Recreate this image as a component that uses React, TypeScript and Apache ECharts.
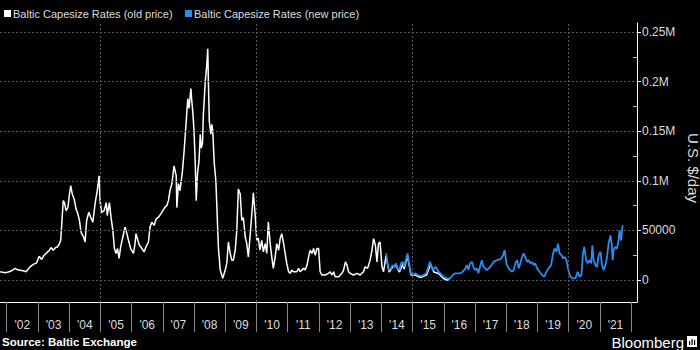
import React, { useEffect, useRef } from "react";
import * as echarts from "echarts";

// Old price (decimal years, USD/day)
const oldYears = [
  2001.79, 2001.95, 2002.05, 2002.16, 2002.27, 2002.37, 2002.53, 2002.62, 2002.75, 2002.85, 2002.96,
  2003.04, 2003.12, 2003.2, 2003.28, 2003.37, 2003.42, 2003.49, 2003.57, 2003.62, 2003.68, 2003.73, 2003.77, 2003.81, 2003.85, 2003.9, 2003.96,
  2004.01, 2004.05, 2004.1, 2004.16, 2004.22, 2004.28, 2004.33, 2004.38, 2004.46, 2004.51, 2004.56, 2004.63, 2004.69, 2004.76, 2004.83, 2004.9, 2004.96, 2004.99,
  2005.04, 2005.12, 2005.19, 2005.22, 2005.29, 2005.34, 2005.4, 2005.45, 2005.5, 2005.55, 2005.6, 2005.65, 2005.72, 2005.79, 2005.85, 2005.9, 2005.97,
  2006.06, 2006.11, 2006.14, 2006.2, 2006.25, 2006.33, 2006.4, 2006.46, 2006.54, 2006.59, 2006.65, 2006.72, 2006.79, 2006.86, 2006.94,
  2007.0, 2007.07, 2007.13, 2007.18, 2007.23, 2007.29, 2007.36, 2007.43, 2007.45, 2007.5, 2007.55, 2007.63, 2007.69, 2007.75, 2007.8, 2007.84, 2007.9, 2007.93, 2007.96,
  2008.0, 2008.04, 2008.07, 2008.11, 2008.16, 2008.2, 2008.23, 2008.27, 2008.3, 2008.36, 2008.41, 2008.44, 2008.46, 2008.49, 2008.54, 2008.57, 2008.6, 2008.65, 2008.7, 2008.74, 2008.78, 2008.84, 2008.92,
  2009.0, 2009.05, 2009.1, 2009.16, 2009.21, 2009.26, 2009.32, 2009.37, 2009.42, 2009.48, 2009.53, 2009.58, 2009.64, 2009.69, 2009.74, 2009.8, 2009.85, 2009.9, 2009.96,
  2010.01, 2010.06, 2010.11, 2010.17, 2010.22, 2010.28, 2010.33, 2010.38, 2010.44, 2010.49, 2010.54, 2010.6, 2010.65, 2010.71, 2010.76, 2010.81, 2010.87, 2010.92, 2010.97,
  2011.03, 2011.08, 2011.13, 2011.18, 2011.29, 2011.35, 2011.4, 2011.51, 2011.56, 2011.62, 2011.67, 2011.72, 2011.78, 2011.83, 2011.88, 2011.94, 2011.99,
  2012.04, 2012.1, 2012.2, 2012.31, 2012.36, 2012.42, 2012.47, 2012.52, 2012.63, 2012.74, 2012.79, 2012.85, 2012.9, 2012.95,
  2013.0, 2013.11, 2013.22, 2013.32, 2013.43, 2013.48, 2013.56, 2013.64, 2013.7, 2013.75, 2013.81, 2013.86, 2013.91, 2013.96,
  2014.02, 2014.07, 2014.15, 2014.25, 2014.36, 2014.47, 2014.58, 2014.69, 2014.73, 2014.84, 2014.95, 2015.09, 2015.25, 2015.45, 2015.58, 2015.68, 2015.83, 2015.99, 2016.1, 2016.19,
];
const oldValues = [
  8300, 7300, 8000, 9300, 11700, 10000, 9300, 8300, 13300, 15700, 17300,
  24000, 20700, 25000, 27300, 30000, 32700, 30000, 32700, 33300, 36000, 40000, 60000, 80000, 78000, 70000, 73000,
  86700, 95000, 86700, 81700, 71700, 66700, 60000, 48300, 43300, 38300, 60000, 68300, 63300, 58300, 76700, 90000, 105000, 80000,
  68000, 70000, 78000, 65000, 78000, 63300, 50000, 31700, 26700, 31700, 21700, 33300, 43300, 53300, 46700, 40000, 31700,
  26700, 36700, 46700, 40000, 35000, 31700, 28300, 33300, 38300, 53300, 58300, 55000, 61700, 63300, 66700,
  70000, 73300, 75000, 80000, 90000, 96700, 115000, 105000, 73000, 97000, 90000, 110000, 133000, 160000, 183000, 173000, 193000, 180000, 170000,
  150000, 117000, 80000, 107000, 120000, 147000, 133000, 137000, 167000, 200000, 217000, 233000, 200000, 160000, 147000, 157000, 150000, 117000, 100000, 67000, 33000, 10000, 1700,
  10000, 16700, 38300, 26700, 20000, 20000, 30000, 50000, 91700, 86700, 60000, 63000, 43300, 36700, 23300, 46000, 66000, 88000, 65000,
  40000, 42000, 30000, 40000, 28300, 36700, 26700, 58300, 36700, 23300, 11700, 23300, 36700, 30000, 41700, 46700, 36700, 26700, 16700,
  8300, 6700, 10000, 8300, 8300, 11700, 8300, 11700, 10000, 15000, 23300, 30000, 26700, 31700, 25000, 31700, 31700,
  8300, 5000, 5000, 6700, 8300, 5000, 8300, 3300, 3300, 6700, 10000, 18300, 15000, 8300,
  6700, 5000, 6700, 5000, 8300, 13300, 11700, 20000, 30000, 41700, 35000, 18300, 36700, 38300,
  13300, 8300, 24000, 8000, 13000, 14500, 8000, 16000, 11000, 24000, 5000, 5000, 2500, 5000, 16000, 8000, 6500, 1500, 0, 0,
];

// New price
const newYears = [
  2014.15, 2014.2, 2014.25, 2014.31, 2014.36, 2014.41, 2014.47, 2014.52, 2014.58, 2014.63, 2014.69, 2014.73, 2014.8, 2014.84, 2014.89, 2014.95,
  2015.01, 2015.09, 2015.16, 2015.25, 2015.36, 2015.44, 2015.51, 2015.56, 2015.62, 2015.67, 2015.73, 2015.78, 2015.83, 2015.89, 2015.99,
  2016.1, 2016.21, 2016.29, 2016.37, 2016.44, 2016.52, 2016.61, 2016.69, 2016.74, 2016.79, 2016.84, 2016.9, 2016.95,
  2017.0, 2017.06, 2017.11, 2017.16, 2017.22, 2017.27, 2017.33, 2017.38, 2017.49, 2017.6, 2017.71, 2017.82, 2017.9, 2017.95,
  2018.01, 2018.08, 2018.13, 2018.19, 2018.24, 2018.29, 2018.35, 2018.4, 2018.45, 2018.51, 2018.56, 2018.61, 2018.67, 2018.72, 2018.77, 2018.83, 2018.88, 2018.93, 2018.99,
  2019.07, 2019.15, 2019.22, 2019.29, 2019.36, 2019.44, 2019.5, 2019.55, 2019.61, 2019.66, 2019.71, 2019.77, 2019.82, 2019.87, 2019.93, 2019.98,
  2020.03, 2020.11, 2020.22, 2020.29, 2020.35, 2020.41, 2020.46, 2020.5, 2020.56, 2020.61, 2020.66, 2020.72, 2020.76, 2020.8, 2020.86, 2020.91, 2020.96,
  2021.02, 2021.07, 2021.12, 2021.18, 2021.23, 2021.28, 2021.34, 2021.38, 2021.41, 2021.44, 2021.49, 2021.55, 2021.6, 2021.63, 2021.68, 2021.72, 2021.74,
];
const newValues = [
  26700, 16700, 10000, 11700, 15000, 13300, 16700, 11700, 10000, 16700, 18300, 13300, 21700, 26700, 16700, 6700,
  5000, 6700, 5000, 4000, 5000, 6700, 13300, 18300, 11700, 10000, 13300, 11700, 8300, 6700, 3300,
  1700, 1700, 5000, 6700, 6700, 6700, 8300, 11700, 15000, 10000, 16700, 18300, 13300,
  10000, 11700, 6700, 13300, 20000, 13300, 11700, 10000, 13300, 18300, 20000, 21000, 25000, 30000,
  16000, 11700, 10000, 8300, 10000, 16700, 20000, 11700, 16700, 23300, 26700, 23300, 18300, 20000, 16700, 18300, 15000, 16700, 11700,
  8300, 5000, 3300, 8300, 11700, 15000, 26700, 31700, 28300, 36700, 26700, 25000, 21700, 23300, 20000, 11700,
  5000, 1700, 1700, 8300, 3300, 5000, 26700, 33300, 20000, 16700, 20000, 16700, 35000, 20000, 15000, 13300, 25000,
  28300, 15000, 10000, 15000, 23300, 36700, 45000, 36700, 20000, 30000, 33300, 31700, 40000, 50000, 40000, 53300, 55000,
];

const seriesNames = ["Baltic Capesize Rates (old price)", "Baltic Capesize Rates (new price)"];
const yTicks = [0, 50000, 100000, 150000, 200000, 250000];
const yMinorTicks = [25000, 75000, 125000, 175000, 225000];
const yearTicks = [2002, 2003, 2004, 2005, 2006, 2007, 2008, 2009, 2010, 2011, 2012, 2013, 2014, 2015, 2016, 2017, 2018, 2019, 2020, 2021, 2022];
const yearLabelPos = [2002.5, 2003.5, 2004.5, 2005.5, 2006.5, 2007.5, 2008.5, 2009.5, 2010.5, 2011.5, 2012.5, 2013.5, 2014.5, 2015.5, 2016.5, 2017.5, 2018.5, 2019.5, 2020.5, 2021.5];
const gridYears = [2005, 2010, 2015, 2020];
const axisTitle = "U.S. $/day";
const sourceText = "Source: Baltic Exchange";
const brandText = "Bloomberg";

const OLD_COLOR = "#ffffff";
const NEW_COLOR = "#2b8cf0";
const FONT = "Liberation Sans";

export default function App() {
  const ref = useRef<HTMLDivElement>(null);
  useEffect(() => {
    document.body.style.margin = "0";
    document.body.style.background = "#000";
    const chart = echarts.init(ref.current!, null, { renderer: "svg" });
    const yMin = -22200;
    const yMax = 259100;
    const option: any = {
      animation: false,
      backgroundColor: "#000",
      textStyle: { fontFamily: FONT },
      grid: { left: 0, right: 63, top: 23, bottom: 48, containLabel: false },
      xAxis: {
        type: "value",
        min: 2001.785,
        max: 2022.19,
        axisLine: { show: true, onZero: false, lineStyle: { color: "#ffffff", width: 1 } },
        axisTick: { show: true, customValues: yearTicks, length: 30, lineStyle: { color: "#8a8a8a", width: 1 } },
        axisLabel: {
          customValues: yearLabelPos,
          formatter: (v: number) => "'" + String(Math.floor(v)).slice(2),
          color: "#dddddd",
          fontSize: 12,
          margin: 17,
          fontFamily: FONT,
        },
        splitLine: { show: false },
      },
      yAxis: [
        {
          type: "value",
          position: "right",
          min: yMin,
          max: yMax,
          axisLine: { show: true, onZero: false, lineStyle: { color: "#ffffff", width: 1 } },
          axisTick: { show: true, customValues: yTicks, length: 4, lineStyle: { color: "#ffffff" } },
          axisLabel: {
            customValues: yTicks,
            formatter: (v: number) => (v === 0 ? "0" : v < 100000 ? String(v) : v / 1000000 + "M"),
            color: "#dddddd",
            fontSize: 12,
            margin: 5,
            fontFamily: FONT,
          },
          splitLine: { show: false },
        },
        {
          type: "value",
          position: "right",
          min: yMin,
          max: yMax,
          axisLine: { show: false, onZero: false },
          axisTick: { show: true, inside: true, customValues: yMinorTicks, length: 4, lineStyle: { color: "#bbbbbb" } },
          axisLabel: { show: false },
          splitLine: { show: false },
        },
      ],
      series: [
        {
          type: "line",
          name: "grid",
          data: [],
          silent: true,
          z: 1,
          markLine: {
            silent: true,
            symbol: ["none", "none"],
            label: { show: false },
            emphasis: { disabled: true },
            lineStyle: { color: "#5a5a5a", type: [2, 2], width: 1 },
            data: [
              ...yTicks.map((v) => ({ yAxis: v })),
              ...gridYears.map((v) => ({ xAxis: v })),
            ],
          },
        },
        {
          type: "line",
          name: seriesNames[0],
          data: oldYears.map((x, i) => [x, oldValues[i]]),
          showSymbol: false,
          symbol: "none",
          z: 3,
          lineStyle: { color: OLD_COLOR, width: 1.5 },
          itemStyle: { color: OLD_COLOR },
        },
        {
          type: "line",
          name: seriesNames[1],
          data: newYears.map((x, i) => [x, newValues[i]]),
          showSymbol: false,
          symbol: "none",
          z: 4,
          lineStyle: { color: NEW_COLOR, width: 1.8 },
          itemStyle: { color: NEW_COLOR },
        },
      ],
      graphic: [
        { type: "rect", shape: { x: 4, y: 10, width: 7, height: 7 }, style: { fill: OLD_COLOR } },
        {
          type: "text",
          x: 13,
          y: 14,
          style: { text: seriesNames[0], fill: "#dddddd", font: `11px "${FONT}"`, verticalAlign: "middle" },
        },
        { type: "rect", shape: { x: 185, y: 10, width: 7, height: 7 }, style: { fill: NEW_COLOR } },
        {
          type: "text",
          x: 194,
          y: 14,
          style: { text: seriesNames[1], fill: "#dddddd", font: `11px "${FONT}"`, verticalAlign: "middle" },
        },
        {
          type: "text",
          x: 693,
          y: 168,
          rotation: -Math.PI / 2,
          style: { text: axisTitle, fill: "#dddddd", font: `15px "${FONT}"`, align: "center", verticalAlign: "middle" },
        },
        {
          type: "text",
          x: 2,
          y: 342,
          style: { text: sourceText, fill: "#ffffff", font: `bold 11.5px "${FONT}"`, verticalAlign: "middle" },
        },
        {
          type: "text",
          x: 684,
          y: 342,
          style: { text: brandText, fill: "#ffffff", font: `15px "${FONT}"`, align: "right", verticalAlign: "middle" },
        },
        { type: "rect", shape: { x: 687, y: 336, width: 10, height: 11 }, style: { fill: "#ffffff" } },
        { type: "rect", shape: { x: 689, y: 341, width: 1.2, height: 4 }, style: { fill: "#000" } },
        { type: "rect", shape: { x: 691.5, y: 339, width: 1.2, height: 6 }, style: { fill: "#000" } },
        { type: "rect", shape: { x: 694, y: 340, width: 1.2, height: 5 }, style: { fill: "#000" } },
      ],
    };
    chart.setOption(option);
    return () => chart.dispose();
  }, []);
  return <div ref={ref} style={{ width: 700, height: 350, background: "#000" }} />;
}
